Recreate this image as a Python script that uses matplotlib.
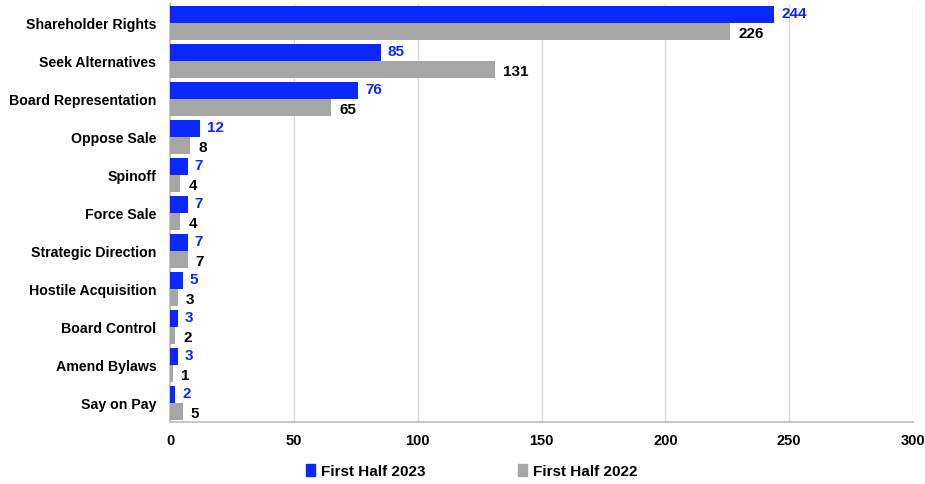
import matplotlib
matplotlib.use("Agg")
import matplotlib.pyplot as plt
import numpy as np
from matplotlib.patches import Patch

categories = ["Shareholder Rights", "Seek Alternatives", "Board Representation",
              "Oppose Sale", "Spinoff", "Force Sale", "Strategic Direction",
              "Hostile Acquisition", "Board Control", "Amend Bylaws", "Say on Pay"]
h2023 = [244, 85, 76, 12, 7, 7, 7, 5, 3, 3, 2]
h2022 = [226, 131, 65, 8, 4, 4, 7, 3, 2, 1, 5]
xticks = [0, 50, 100, 150, 200, 250, 300]

plt.rcParams['font.family'] = ['Liberation Sans', 'DejaVu Sans']
plt.rcParams['font.weight'] = 'bold'

blue = '#0A28FF'
gray = '#A6A6A6'

fig = plt.figure(figsize=(9.25, 4.85), dpi=100)
ax = fig.add_axes([0.184, 0.128, 0.803, 0.862])

n = len(categories)
y = np.arange(n)
bh = 0.447
ax.barh(y - bh/2, h2023, height=bh, color=blue, zorder=3)
ax.barh(y + bh/2, h2022, height=bh, color=gray, zorder=3)

for yi, v in zip(y, h2023):
    ax.annotate(str(v), (v, yi - bh/2), xytext=(5, 1), textcoords='offset points',
                ha='left', va='center', color=blue, fontsize=11, fontweight='bold')
for yi, v in zip(y, h2022):
    ax.annotate(str(v), (v, yi + bh/2), xytext=(6, -1), textcoords='offset points',
                ha='left', va='center', color='black', fontsize=11, fontweight='bold')

ax.set_xlim(0, 300)
ax.set_ylim(n - 0.5, -0.5)
ax.set_yticks(y)
ax.set_yticklabels(categories, fontsize=10.2, fontweight='bold')
ax.set_xticks(xticks)
ax.set_xticklabels([str(t) for t in xticks], fontsize=10.5, fontweight='bold')
ax.tick_params(axis='y', length=0, pad=10)
ax.tick_params(axis='x', length=0, pad=8)
ax.xaxis.grid(True, color='#D9D9D9', linewidth=1, zorder=0)
ax.set_axisbelow(True)
for s in ['top', 'right']:
    ax.spines[s].set_visible(False)
for s in ['left', 'bottom']:
    ax.spines[s].set_color('#BFBFBF')
    ax.spines[s].set_linewidth(1.2)

handles = [Patch(color=blue, label='First Half 2023'),
           Patch(color=gray, label='First Half 2022')]
fig.legend(handles=handles, loc='center', bbox_to_anchor=(0.51, 0.027), ncol=2,
           frameon=False, handlelength=0.6, handleheight=0.9,
           handletextpad=0.4, columnspacing=6, prop={'weight': 'bold', 'size': 11})

fig.savefig('out.png', dpi=100)
